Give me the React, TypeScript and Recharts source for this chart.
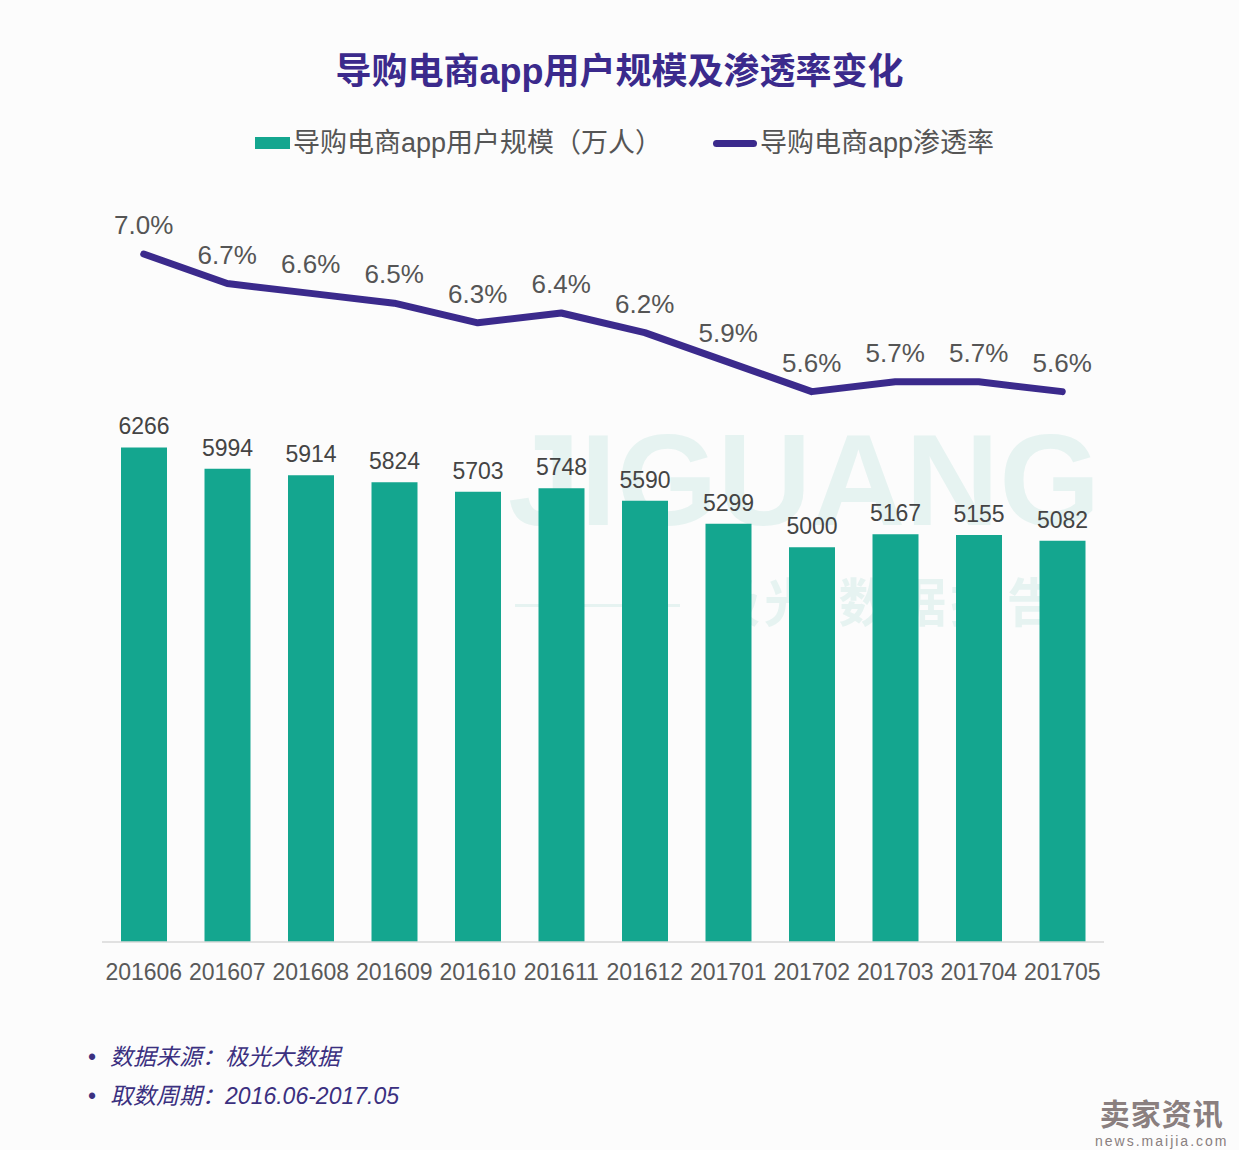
import React from 'react';
import { ComposedChart, Bar, Line, XAxis, YAxis, LabelList } from 'recharts';

const months = ['201606', '201607', '201608', '201609', '201610', '201611', '201612', '201701', '201702', '201703', '201704', '201705'];
const users = [6266, 5994, 5914, 5824, 5703, 5748, 5590, 5299, 5000, 5167, 5155, 5082];
const rates = [7.0, 6.7, 6.6, 6.5, 6.3, 6.4, 6.2, 5.9, 5.6, 5.7, 5.7, 5.6];

const TEAL = '#14a68f';
const PURPLE = '#3b2a8c';
const FONT = '"Liberation Sans", Arial, "Noto Sans CJK SC", sans-serif';

const data = months.map((m, i) => ({ month: m, users: users[i], rate: rates[i] }));

export default function App() {
  return (
    <div style={{ position: 'absolute', left: 0, top: 0, width: 1239, height: 1150, background: '#fcfcfc', fontFamily: FONT, overflow: 'hidden' }}>
      {/* faint watermark behind the chart */}
      <div style={{ position: 'absolute', left: 508, top: 415, fontSize: 130, fontWeight: 700, color: '#e6f3f1', lineHeight: 1 }}>JIGUANG</div>
      <div style={{ position: 'absolute', left: 515, top: 604, width: 165, height: 3, background: '#e6f3f1' }} />
      <div style={{ position: 'absolute', left: 708, top: 578, fontSize: 52, fontWeight: 700, color: '#e6f3f1', letterSpacing: 4, lineHeight: 1 }}>极光 数据报告</div>

      <div style={{ position: 'absolute', left: 0, width: 1239, top: 48, textAlign: 'center', fontSize: 36, fontWeight: 700, color: PURPLE, lineHeight: '48px' }}>
        导购电商app用户规模及渗透率变化
      </div>

      <div style={{ position: 'absolute', left: 255, top: 126, display: 'flex', alignItems: 'center', fontSize: 27, color: '#555', lineHeight: '34px' }}>
        <span style={{ display: 'inline-block', width: 35, height: 12, background: TEAL, marginRight: 3 }} />
        <span>导购电商app用户规模（万人）</span>
        <span style={{ display: 'inline-block', width: 44, height: 7, borderRadius: 4, background: PURPLE, marginLeft: 51, marginRight: 3 }} />
        <span>导购电商app渗透率</span>
      </div>

      <div style={{ position: 'absolute', left: 0, top: 0 }}>
        <ComposedChart width={1239} height={1000} data={data} margin={{ top: 200, right: 135, left: 102, bottom: 18 }}>
          <XAxis
            dataKey="month"
            height={40}
            tickLine={false}
            axisLine={{ stroke: '#d9d9d9', strokeWidth: 1.5 }}
            tick={{ fill: '#595959', fontSize: 23, fontFamily: FONT }}
            tickMargin={16}
            interval={0}
          />
          <YAxis yAxisId="left" hide domain={[0, 9400]} />
          <YAxis yAxisId="right" orientation="right" hide domain={[0, 7.55]} />
          <Bar yAxisId="left" dataKey="users" fill={TEAL} barSize={46} isAnimationActive={false}>
            <LabelList dataKey="users" position="top" offset={13} style={{ fill: '#444', fontSize: 23, fontFamily: FONT }} />
          </Bar>
          <Line yAxisId="right" dataKey="rate" type="linear" stroke={PURPLE} strokeWidth={7} strokeLinecap="round" strokeLinejoin="round" dot={false} isAnimationActive={false}>
            <LabelList dataKey="rate" position="top" offset={20} formatter={(v: number) => v.toFixed(1) + '%'} style={{ fill: '#555', fontSize: 26, fontFamily: FONT }} />
          </Line>
        </ComposedChart>
      </div>

      <div style={{ position: 'absolute', left: 88, top: 1038, fontSize: 23, fontStyle: 'italic', color: '#3b3080', lineHeight: '39px' }}>
        <div><span style={{ fontStyle: 'normal', marginRight: 14 }}>•</span>数据来源：极光大数据</div>
        <div><span style={{ fontStyle: 'normal', marginRight: 14 }}>•</span>取数周期：2016.06-2017.05</div>
      </div>

      <div style={{ position: 'absolute', left: 1095, top: 1100, textAlign: 'center', color: '#8a7f7f', lineHeight: 1 }}>
        <div style={{ fontSize: 30, fontWeight: 700, letterSpacing: 1 }}>卖家资讯</div>
        <div style={{ fontSize: 14, letterSpacing: 2, marginTop: 4 }}>news.maijia.com</div>
      </div>
    </div>
  );
}
